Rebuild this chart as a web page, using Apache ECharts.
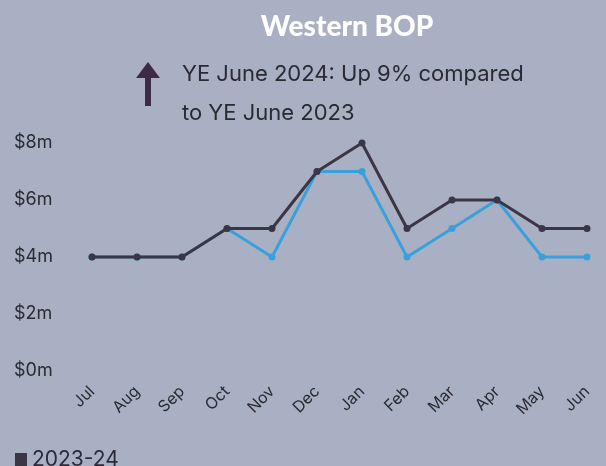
<!DOCTYPE html>
<html><head><meta charset="utf-8">
<script src="https://cdn.jsdelivr.net/npm/echarts@6/dist/echarts.min.js"></script>
<style>html,body{margin:0;padding:0;background:#aab0c4;}#c{width:606px;height:466px;}</style>
</head><body><div id="c"></div>
<script>
const months = ['Jul','Aug','Sep','Oct','Nov','Dec','Jan','Feb','Mar','Apr','May','Jun'];
const series2324 = [4,4,4,5,5,7,8,5,6,6,5,5];
const series2223 = [4,4,4,5,4,7,7,4,5,6,4,4];
const yTicks = [0,2,4,6,8];
const titleText = 'Western BOP';
const noteLines = ['YE June 2024: Up 9% compared','to YE June 2023'];

const chart = echarts.init(document.getElementById('c'), null, {renderer:'canvas'});
chart.setOption({
  backgroundColor:'#aab0c4',
  animation:false,
  title:{text:titleText,left:342,textAlign:'center',top:8,
    textStyle:{color:'#ffffff',fontFamily:'Lato',fontWeight:'900',fontSize:28}},
  legend:{data:[{name:'2023-24',icon:'rect'}],left:10,top:444,itemWidth:12,itemHeight:13,itemGap:13,
    textStyle:{color:'#2a2a3a',fontFamily:'Inter',fontSize:21}},
  graphic:[
    {type:'text',left:182,top:63,style:{text:noteLines[0],fill:'#2a2a33',font:'22px Inter'}},
    {type:'text',left:182,top:102,style:{text:noteLines[1],fill:'#2a2a33',font:'22px Inter'}},
    {type:'polygon',shape:{points:[[148,62],[160,78],[151,78],[151,106],[145,106],[145,78],[136,78]]},
      style:{fill:'#3d2a45'}}
  ],
  grid:{left:92,right:19,top:143,bottom:95,containLabel:false},
  xAxis:{type:'category',data:months,boundaryGap:false,
    axisLine:{show:false},axisTick:{show:false},
    axisLabel:{rotate:45,color:'#2a2a33',fontFamily:'Inter',fontSize:16,margin:18,interval:0}},
  yAxis:{type:'value',min:0,max:8,interval:2,
    splitLine:{show:false},axisLine:{show:false},axisTick:{show:false},
    axisLabel:{color:'#2a2a33',fontFamily:'Inter',fontSize:18,margin:78,align:'left',
      formatter:v=>yTicks.includes(v)?'$'+v+'m':''}},
  series:[
    {name:'2022-23',type:'line',data:series2223,symbol:'circle',symbolSize:7,z:2,
      lineStyle:{color:'#3aa0dc',width:3},itemStyle:{color:'#3aa0dc'}},
    {name:'2023-24',type:'line',data:series2324,symbol:'circle',symbolSize:7,z:3,
      lineStyle:{color:'#3b3645',width:3},itemStyle:{color:'#3b3645'}}
  ]
});
</script></body></html>
